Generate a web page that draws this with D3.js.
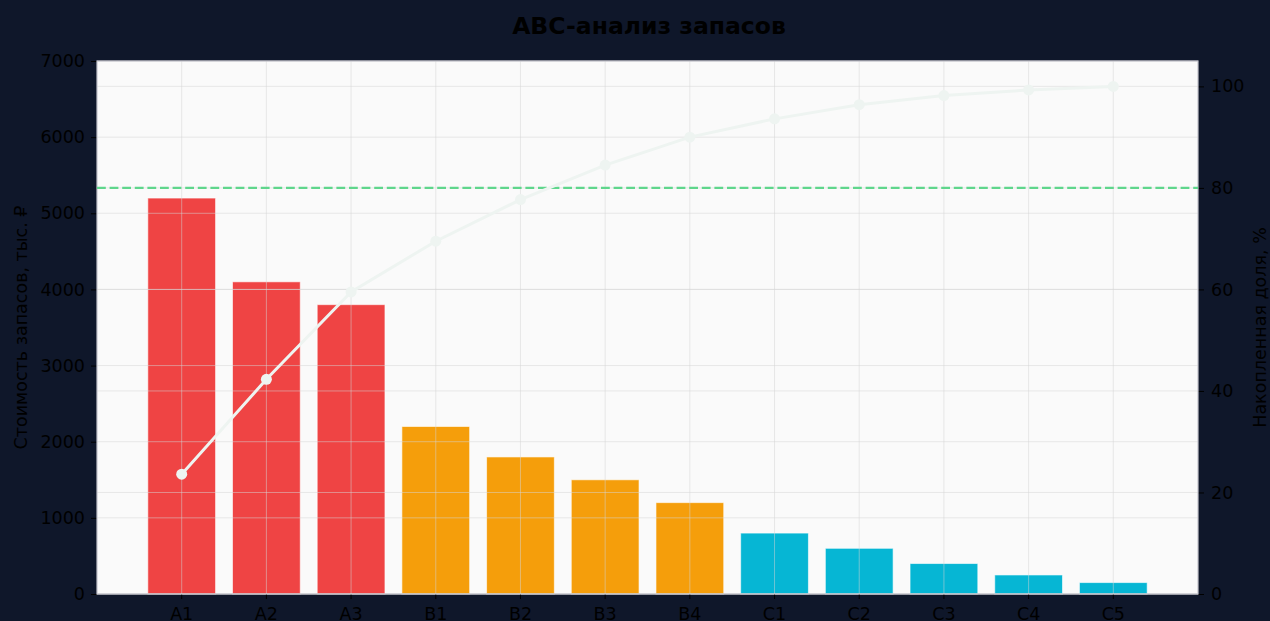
<!DOCTYPE html>
<html>
<head>
<meta charset="utf-8">
<script src="https://cdn.jsdelivr.net/npm/d3@7"></script>
<style>
  body { margin: 0; background: #0f172a; }
  svg { display: block; font-family: "DejaVu Sans", sans-serif; }
</style>
</head>
<body>
<svg id="drawing_region"></svg>
<script>
// inventory items, sorted by value
const categories = ['A1', 'A2', 'A3', 'B1', 'B2', 'B3', 'B4', 'C1', 'C2', 'C3', 'C4', 'C5'];
const groups = ['A', 'A', 'A', 'B', 'B', 'B', 'B', 'C', 'C', 'C', 'C', 'C'];
const values = [5200, 4100, 3800, 2200, 1800, 1500, 1200, 800, 600, 400, 250, 150];
// cumulative share, %
const cumulative = [23.6, 42.3, 59.5, 69.5, 77.7, 84.5, 90.0, 93.6, 96.4, 98.2, 99.3, 100];
const leftTicks = [0, 1000, 2000, 3000, 4000, 5000, 6000, 7000];
const rightTicks = [0, 20, 40, 60, 80, 100];
const threshold = 80;

const groupColor = { A: '#ef4444', B: '#f59e0b', C: '#06b6d4' };

const width = 1270, height = 621;
const margin = { top: 61, right: 72, bottom: 27, left: 97 };
const inner_width = width - margin.left - margin.right;
const inner_height = height - margin.top - margin.bottom;
const font = '"DejaVu Sans", sans-serif';
const fontSize = '17.5px';

const svg = d3.select('#drawing_region')
    .attr('width', width)
    .attr('height', height);

svg.append('rect')
    .attr('width', width).attr('height', height)
    .attr('fill', '#0f172a');

const chart = svg.append('g')
    .attr('transform', `translate(${margin.left}, ${margin.top})`);

const x = d3.scaleBand()
    .domain(categories)
    .range([0, inner_width])
    .paddingInner(0.2)
    .paddingOuter(0.6);
const y = d3.scaleLinear().domain([0, 7000]).range([inner_height, 0]);
const y2 = d3.scaleLinear().domain([0, 105]).range([inner_height, 0]);

// axes background
chart.append('rect')
    .attr('width', inner_width).attr('height', inner_height)
    .attr('fill', '#fafafa');

// bars
chart.selectAll('.bar')
    .data(values)
    .join('rect')
    .attr('class', 'bar')
    .attr('x', (d, i) => x(categories[i]))
    .attr('y', d => y(d))
    .attr('width', x.bandwidth())
    .attr('height', d => inner_height - y(d))
    .attr('fill', (d, i) => groupColor[groups[i]])
    .attr('stroke', '#ffffff')
    .attr('stroke-opacity', 0.6)
    .attr('stroke-width', 1);

// grid (drawn over bars)
const grid = chart.append('g')
    .attr('stroke', '#d6d6d6')
    .attr('stroke-opacity', 0.5)
    .attr('stroke-width', 1);
grid.selectAll('.gx')
    .data(categories)
    .join('line')
    .attr('x1', d => x(d) + x.bandwidth() / 2)
    .attr('x2', d => x(d) + x.bandwidth() / 2)
    .attr('y1', 0).attr('y2', inner_height);
grid.selectAll('.gy')
    .data(leftTicks)
    .join('line')
    .attr('class', 'gy')
    .attr('x1', 0).attr('x2', inner_width)
    .attr('y1', d => y(d)).attr('y2', d => y(d));
grid.selectAll('.gy2')
    .data(rightTicks)
    .join('line')
    .attr('class', 'gy2')
    .attr('x1', 0).attr('x2', inner_width)
    .attr('y1', d => y2(d)).attr('y2', d => y2(d));

// axes
const xAxis = chart.append('g')
    .attr('transform', `translate(0, ${inner_height})`)
    .call(d3.axisBottom(x).tickSize(5).tickPadding(7));
const yAxis = chart.append('g')
    .call(d3.axisLeft(y).tickValues(leftTicks).tickFormat(d3.format('d')).tickSize(6).tickPadding(6));
const yAxis2 = chart.append('g')
    .attr('transform', `translate(${inner_width}, 0)`)
    .call(d3.axisRight(y2).tickValues(rightTicks).tickFormat(d3.format('d')).tickSize(6).tickPadding(7));
[xAxis, yAxis, yAxis2].forEach(a => {
    a.attr('font-family', font).attr('font-size', fontSize);
    a.select('.domain').remove();
    a.selectAll('.tick line').attr('stroke', '#000');
    a.selectAll('.tick text').attr('fill', '#000');
});
xAxis.selectAll('.tick text').attr('dy', '0.8em');

// spines
chart.append('rect')
    .attr('width', inner_width).attr('height', inner_height)
    .attr('fill', 'none')
    .attr('stroke', '#c4c4cc')
    .attr('stroke-width', 1.2);

// 80% threshold
chart.append('line')
    .attr('x1', 0).attr('x2', inner_width)
    .attr('y1', y2(threshold)).attr('y2', y2(threshold))
    .attr('stroke', '#5fd68c')
    .attr('stroke-width', 2.4)
    .attr('stroke-dasharray', '8.8,3.8');

// cumulative line
const line = d3.line()
    .x((d, i) => x(categories[i]) + x.bandwidth() / 2)
    .y(d => y2(d));
chart.append('path')
    .datum(cumulative)
    .attr('d', line)
    .attr('fill', 'none')
    .attr('stroke', '#eef4f1')
    .attr('stroke-width', 3);
chart.selectAll('.pt')
    .data(cumulative)
    .join('circle')
    .attr('class', 'pt')
    .attr('cx', (d, i) => x(categories[i]) + x.bandwidth() / 2)
    .attr('cy', d => y2(d))
    .attr('r', 5.5)
    .attr('fill', '#eef4f1');

// labels
svg.append('text')
    .attr('x', width / 2 + 14)
    .attr('y', 34)
    .attr('text-anchor', 'middle')
    .style('font-size', '23.5px')
    .style('font-weight', 'bold')
    .attr('fill', '#000')
    .text('ABC-анализ запасов');

svg.append('text')
    .attr('transform', `translate(27, ${margin.top + inner_height / 2}) rotate(-90)`)
    .attr('text-anchor', 'middle')
    .style('font-size', fontSize)
    .attr('fill', '#000')
    .text('Стоимость запасов, тыс. ₽');

svg.append('text')
    .attr('transform', `translate(1266, ${margin.top + inner_height / 2}) rotate(-90)`)
    .attr('text-anchor', 'middle')
    .style('font-size', fontSize)
    .attr('fill', '#000')
    .text('Накопленная доля, %');
</script>
</body>
</html>
